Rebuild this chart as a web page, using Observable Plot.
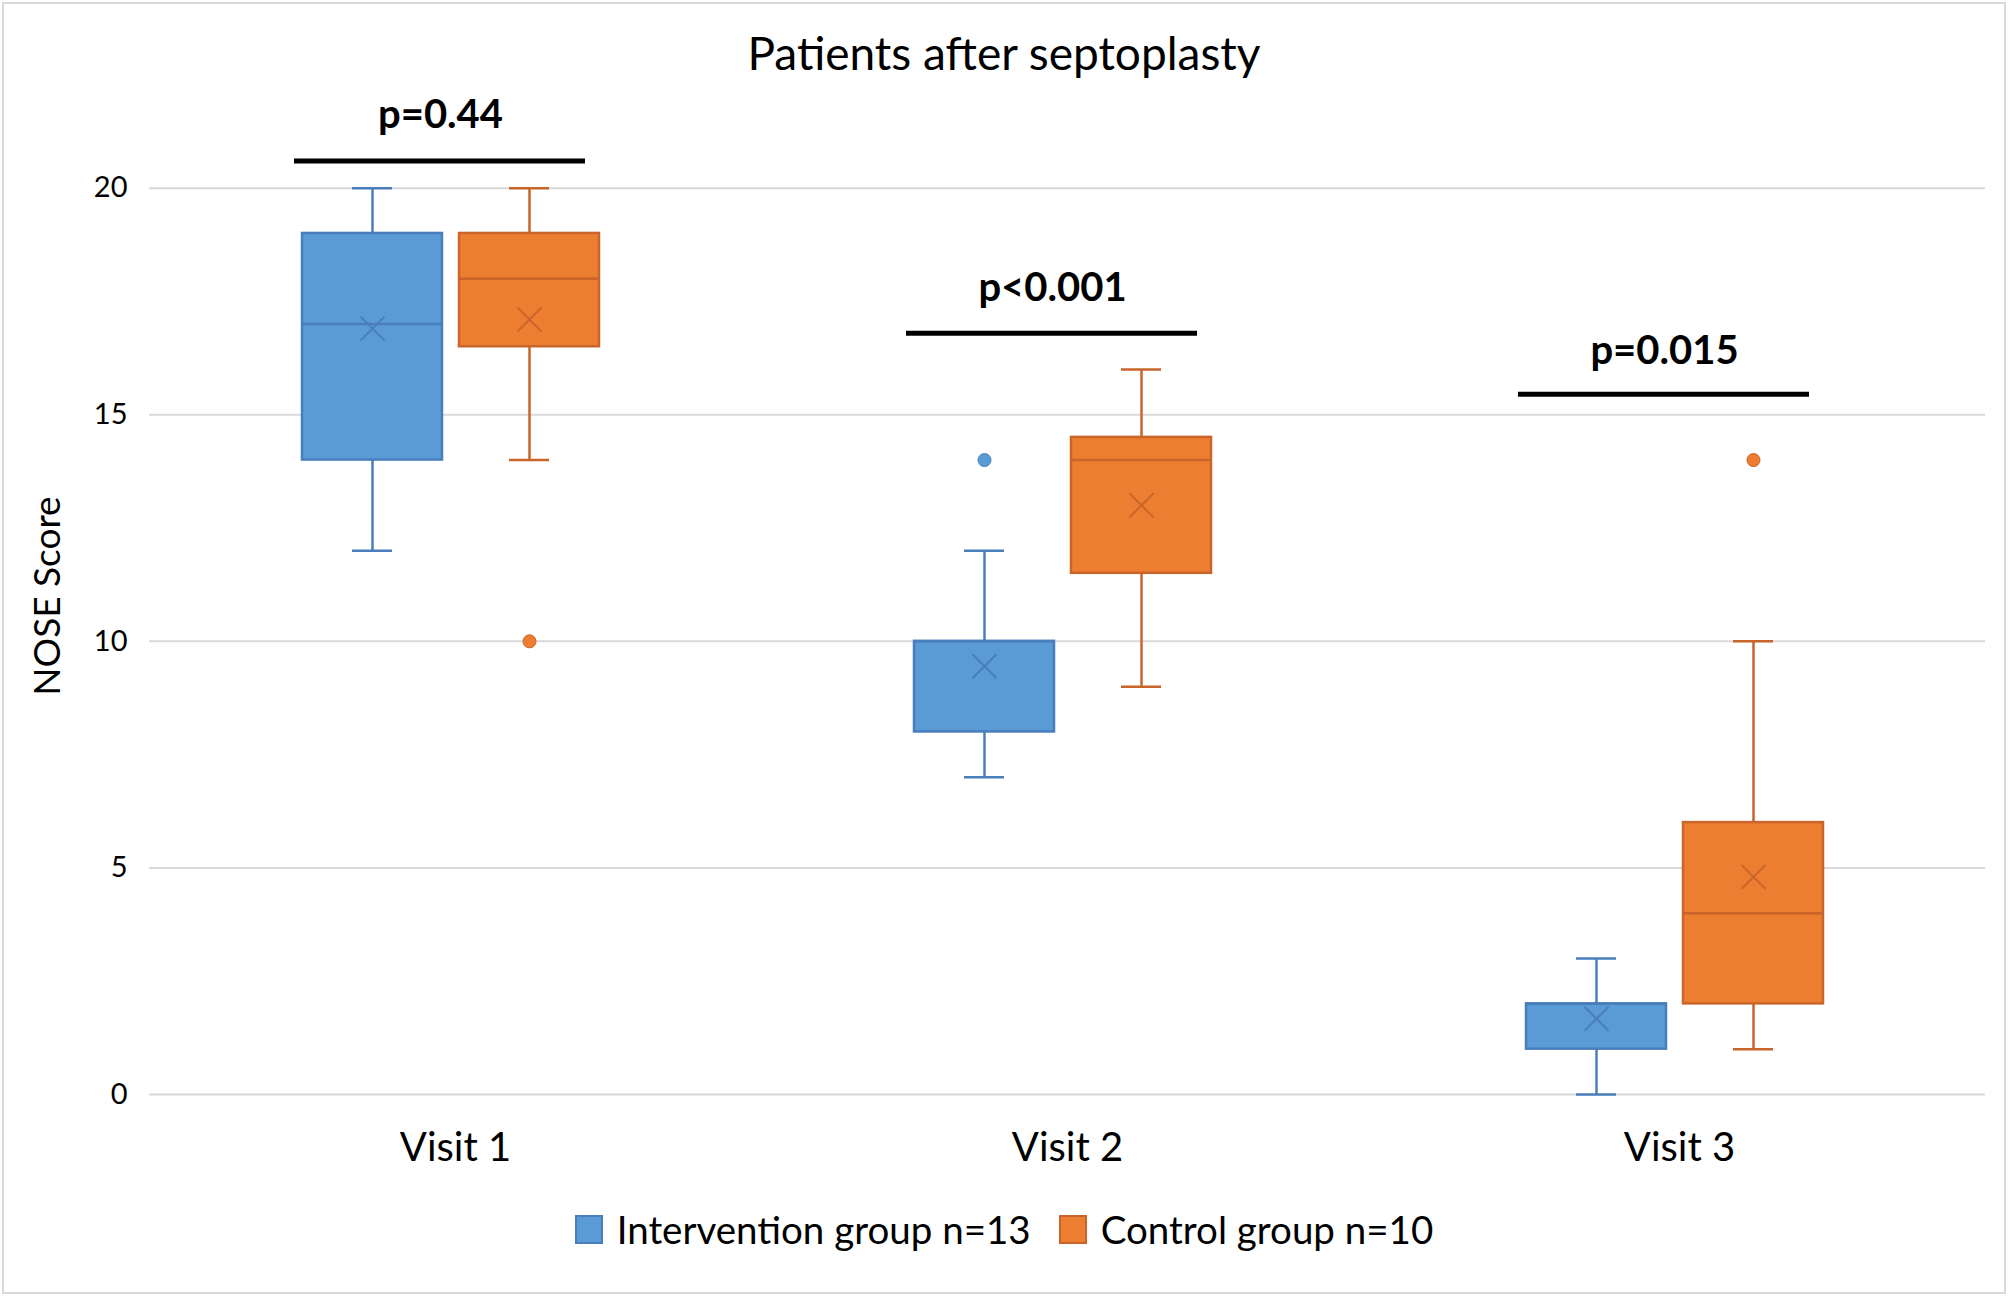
<!DOCTYPE html>
<html>
<head>
<meta charset="utf-8">
<script src="https://cdn.jsdelivr.net/npm/d3@7"></script>
<script src="https://cdn.jsdelivr.net/npm/@observablehq/plot@0.6"></script>
<style>
  body { margin: 0; background: #fff; font-family: Lato, "Open Sans", sans-serif; }
  #wrap { position: relative; width: 2008px; height: 1296px; overflow: hidden; background: #fff; }
  #frame { position: absolute; left: 2px; top: 2px; width: 2004px; height: 1292px; box-sizing: border-box; border: 2px solid #d9d9d9; }
  #title { position: absolute; top: 27px; left: 0; width: 2008px; text-align: center; font-size: 46px; line-height: 52px; color: #000; }
  #chart { position: absolute; top: 80px; left: 0; }
  #legend { position: absolute; top: 1204px; left: 0; width: 2008px; display: flex; justify-content: center; align-items: center; font-size: 38.5px; line-height: 50px; color: #000; }
  .item { display: flex; align-items: center; margin: 0 14px; }
  .sw { width: 28px; height: 29px; box-sizing: border-box; border: 2px solid; margin-right: 14px; }
</style>
</head>
<body>
<div id="wrap">
  <div id="frame"></div>
  <div id="title">Patients after septoplasty</div>
  <div id="chart"></div>
  <div id="legend"></div>
</div>
<script>
// ---- data ----
const visits = ["Visit 1", "Visit 2", "Visit 3"];
const groups = ["Intervention group n=13", "Control group n=10"];
const yTicks = [0, 5, 10, 15, 20];

const interventionMin    = [12, 7, 0];
const interventionQ1     = [14, 8, 1];
const interventionMedian = [17, 10, 2];
const interventionQ3     = [19, 10, 2];
const interventionMax    = [20, 12, 3];
const interventionMean   = [16.9, 9.45, 1.67];
const interventionOutliers = [[], [14], []];

const controlMin    = [14, 9, 1];
const controlQ1     = [16.5, 11.5, 2];
const controlMedian = [18, 14, 4];
const controlQ3     = [19, 14.5, 6];
const controlMax    = [20, 16, 10];
const controlMean   = [17.1, 13, 4.8];
const controlOutliers = [[10], [], [14]];

const pLabels = ["p=0.44", "p<0.001", "p=0.015"];
const pTextY  = [21.6, 17.8, 16.4];
const pLineY  = [20.6, 16.8, 15.45];

// ---- styling ----
const fills   = ["#5B9BD5", "#ED7D31"];
const strokes = ["#4A7EBB", "#C9652A"];

function rows(gi, mins, q1s, meds, q3s, maxs, means) {
  return visits.map((v, i) => ({visit: v, group: groups[gi], min: mins[i], q1: q1s[i], median: meds[i], q3: q3s[i], max: maxs[i], mean: means[i]}));
}
function outlierRows(gi, outs) {
  return visits.flatMap((v, i) => outs[i].map(o => ({visit: v, group: groups[gi], value: o})));
}
const series = [
  {data: rows(0, interventionMin, interventionQ1, interventionMedian, interventionQ3, interventionMax, interventionMean), out: outlierRows(0, interventionOutliers)},
  {data: rows(1, controlMin, controlQ1, controlMedian, controlQ3, controlMax, controlMean), out: outlierRows(1, controlOutliers)}
];
const pRows = visits.map((v, i) => ({visit: v, label: pLabels[i], ty: pTextY[i], ly: pLineY[i]}));

const marks = [
  Plot.gridY(yTicks, {stroke: "#d9d9d9", strokeOpacity: 1, strokeWidth: 2}),
  Plot.axisY({ticks: yTicks, tickSize: 0, tickPadding: 22, fontSize: 29, label: null, line: true, stroke: "#d9d9d9", strokeWidth: 2, fill: "#000"}),
  Plot.axisY({ticks: [], label: "NOSE Score", labelAnchor: "center", labelArrow: "none", labelOffset: 116, fontSize: 37, fill: "#000"}),
  Plot.axisFx({anchor: "bottom", tickSize: 0, tickPadding: 38, fontSize: 40, label: null, fill: "#000"})
];
series.forEach((s, gi) => {
  marks.push(
    Plot.ruleX(s.data, {fx: "visit", x: "group", y1: "min", y2: "max", stroke: strokes[gi], strokeWidth: 2.5}),
    Plot.tickY(s.data, {fx: "visit", x: "group", y: "min", stroke: strokes[gi], strokeWidth: 2.5, insetLeft: 50, insetRight: 50}),
    Plot.tickY(s.data, {fx: "visit", x: "group", y: "max", stroke: strokes[gi], strokeWidth: 2.5, insetLeft: 50, insetRight: 50}),
    Plot.barY(s.data, {fx: "visit", x: "group", y1: "q1", y2: "q3", fill: fills[gi], stroke: strokes[gi], strokeWidth: 2.5}),
    Plot.tickY(s.data, {fx: "visit", x: "group", y: "median", stroke: strokes[gi], strokeWidth: 2.5}),
    Plot.dot(s.data, {fx: "visit", x: "group", y: "mean", symbol: "times", r: 11, stroke: strokes[gi], strokeWidth: 2}),
    Plot.dot(s.out, {fx: "visit", x: "group", y: "value", r: 6.5, fill: fills[gi], stroke: strokes[gi], strokeWidth: 1})
  );
});
marks.push(
  Plot.ruleY(pRows, {fx: "visit", y: "ly", x1: () => groups[0], x2: () => groups[1], stroke: "#000", strokeWidth: 5, dx: -8, insetRight: 6}),
  Plot.text(pRows, {fx: "visit", y: "ty", text: "label", fontSize: 40, fontWeight: "bold", fill: "#000", dx: -15})
);

const chart = Plot.plot({
  width: 2008,
  height: 1110,
  marginLeft: 148,
  marginRight: 23,
  marginTop: 17,
  marginBottom: 96,
  style: {fontFamily: "Lato, 'Open Sans', sans-serif", color: "#000", background: "transparent"},
  fx: {domain: visits, padding: 0, label: null},
  x: {domain: groups, paddingInner: 0.106, paddingOuter: 1.0, align: 0.486, axis: null},
  y: {domain: [0, 22], axis: null},
  marks
});
document.getElementById("chart").appendChild(chart);

// legend
const legend = document.getElementById("legend");
groups.forEach((g, gi) => {
  const item = document.createElement("div");
  item.className = "item";
  const sw = document.createElement("div");
  sw.className = "sw";
  sw.style.background = fills[gi];
  sw.style.borderColor = strokes[gi];
  const t = document.createElement("span");
  t.textContent = g;
  item.appendChild(sw);
  item.appendChild(t);
  legend.appendChild(item);
});
</script>
</body>
</html>
